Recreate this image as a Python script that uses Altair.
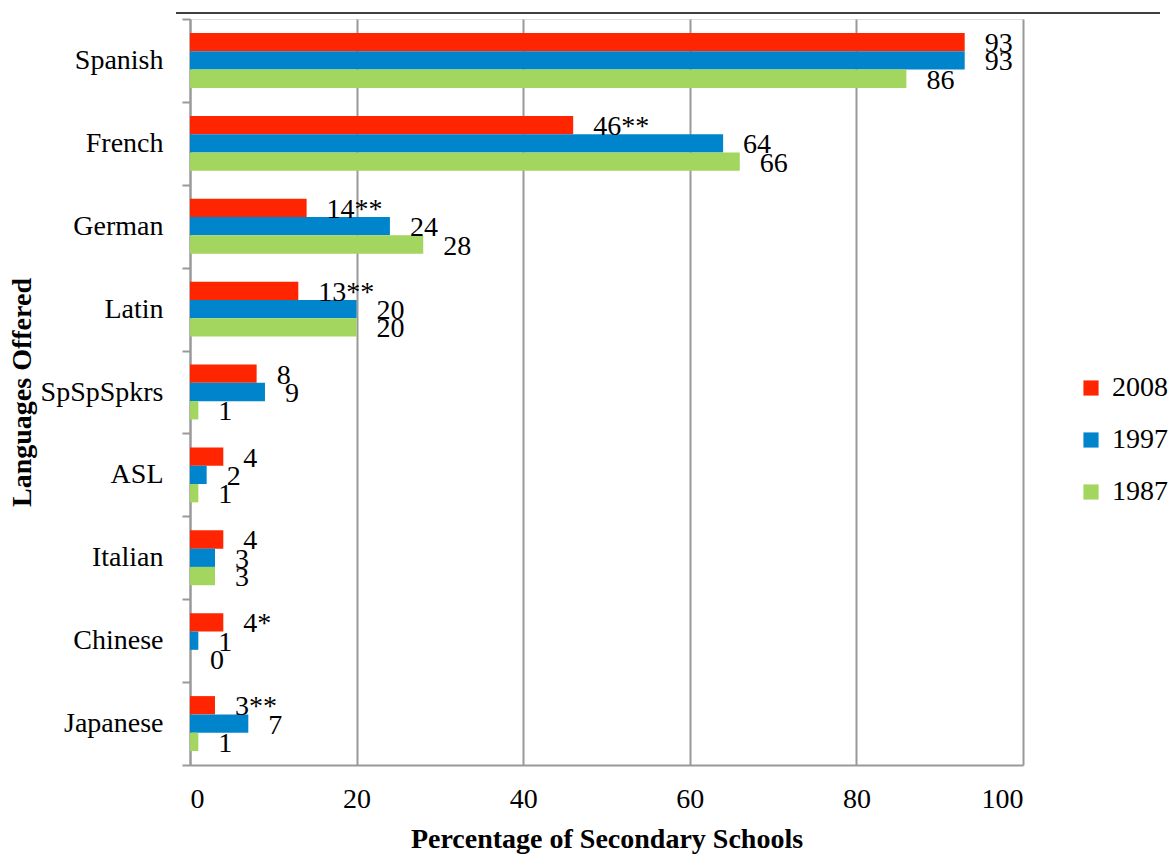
import altair as alt
import pandas as pd

languages = ["Spanish", "French", "German", "Latin", "SpSpSpkrs", "ASL", "Italian", "Chinese", "Japanese"]
years = ["2008", "1997", "1987"]
values_2008 = [93, 46, 14, 13, 8, 4, 4, 4, 3]
values_1997 = [93, 64, 24, 20, 9, 2, 3, 1, 7]
values_1987 = [86, 66, 28, 20, 1, 1, 3, 0, 1]
labels_2008 = ["93", "46**", "14**", "13**", "8", "4", "4", "4*", "3**"]
labels_1997 = [str(v) for v in values_1997]
labels_1987 = [str(v) for v in values_1987]
colors = ["#FF2500", "#0085CC", "#A2D65E"]

rows = []
for yr, vals, labs in zip(years, [values_2008, values_1997, values_1987],
                          [labels_2008, labels_1997, labels_1987]):
    for lang, v, lab in zip(languages, vals, labs):
        rows.append({"Language": lang, "Year": yr, "Value": v, "Label": lab})
df = pd.DataFrame(rows)

FONT = "Liberation Serif"

y_enc = alt.Y("Language:N", sort=languages,
              scale=alt.Scale(paddingInner=0, paddingOuter=0),
              axis=alt.Axis(title="Languages Offered", titleFont=FONT, titleFontSize=28,
                            titleFontWeight="bold", titleColor="black", titlePadding=4,
                            labelFont=FONT, labelFontSize=28, labelColor="black",
                            labelPadding=19, tickBand="extent", tickSize=8,
                            tickColor="#999999", tickWidth=2,
                            domainColor="#999999", domainWidth=2, grid=False))
yoff = alt.YOffset("Year:N", sort=years,
                   scale=alt.Scale(paddingInner=0, paddingOuter=0.765))
x_enc = alt.X("Value:Q", scale=alt.Scale(domain=[0, 100]),
              axis=alt.Axis(title="Percentage of Secondary Schools", values=[0, 20, 40, 60, 80, 100],
                            titleFont=FONT, titleFontSize=28, titleFontWeight="bold",
                            titleColor="black", titlePadding=12,
                            labelFont=FONT, labelFontSize=28, labelColor="black",
                            labelPadding=20, ticks=False,
                            domainColor="#999999", domainWidth=2,
                            grid=True, gridColor="#999999", gridWidth=2))

bars = alt.Chart(df).mark_bar().encode(
    y=y_enc, yOffset=yoff, x=x_enc,
    color=alt.Color("Year:N", sort=years,
                    scale=alt.Scale(domain=years, range=colors),
                    legend=alt.Legend(title=None, orient="none", legendX=887, legendY=355,
                                      symbolType="square", symbolSize=230, symbolStrokeWidth=0,
                                      labelFont=FONT, labelFontSize=28, labelColor="black",
                                      rowPadding=24, labelOffset=7)),
)

text = alt.Chart(df).mark_text(align="left", baseline="middle", dx=20, dy=2,
                               font=FONT, fontSize=28, color="black").encode(
    y=alt.Y("Language:N", sort=languages), yOffset=yoff,
    x=alt.X("Value:Q"), text="Label:N",
)

top_line = alt.Chart(pd.DataFrame({"a": [0]})).mark_rule(color="black", strokeWidth=1.5).encode(
    x=alt.value(-14), x2=alt.value(970), y=alt.value(-6)
)

chart = alt.layer(bars, text, top_line).properties(
    width=833, height=746,
    autosize=alt.AutoSizeParams(type="none"),
    padding={"left": 190, "top": 19, "right": 153, "bottom": 89},
).configure_view(stroke=None).configure(background="white")

chart.save("out.html", embed_options={"renderer": "svg", "actions": False})
